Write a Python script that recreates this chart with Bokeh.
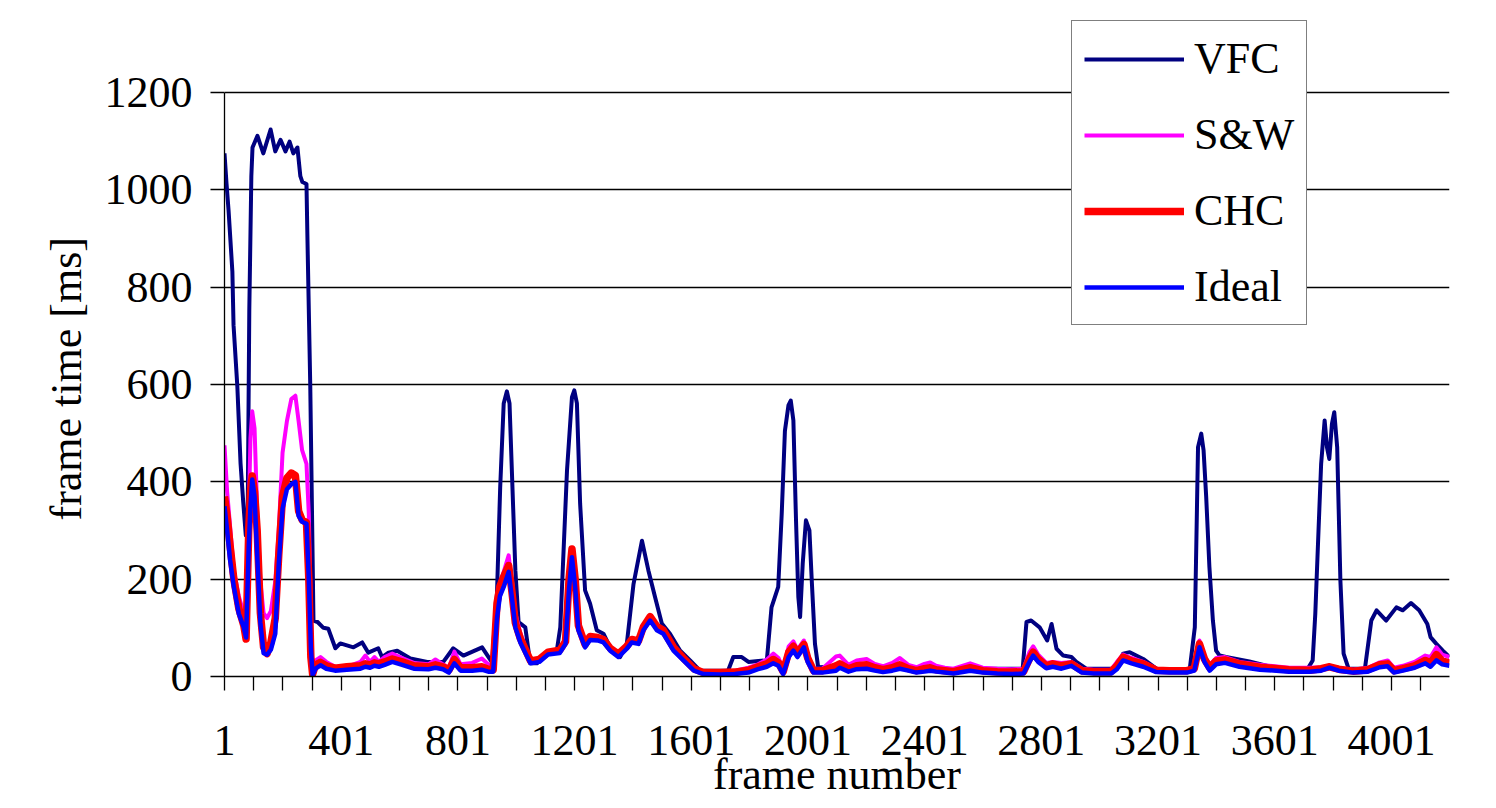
from bokeh.plotting import figure
from bokeh.models import FixedTicker, Range1d, Title
from bokeh.embed import file_html
from bokeh.resources import INLINE

# ---------------- data ----------------
series_names = ["VFC", "S&W", "CHC", "Ideal"]
series_colors = ["#000080", "#FF00FF", "#FF0000", "#0000FF"]

vfc_frames = [1, 8, 15, 28, 32, 45, 56, 65, 74, 80, 86, 93, 97, 114, 134, 159, 175, 193, 210, 224,
              237, 251, 261, 268, 282, 285, 295, 306, 320, 340, 357, 381, 398, 443, 473, 494, 528, 541,
              563, 593, 638, 696, 751, 785, 820, 884, 918, 935, 946, 958, 969, 978, 986, 998, 1009,
              1032, 1049, 1072, 1106, 1140, 1152, 1175, 1192, 1200, 1209, 1220, 1237, 1254, 1277,
              1300, 1323, 1357, 1380, 1403, 1432, 1454, 1477, 1500, 1528, 1563, 1597, 1631, 1727,
              1745, 1774, 1797, 1831, 1860, 1876, 1899, 1911, 1922, 1934, 1942, 1951, 1960, 1968,
              1974, 1983, 1994, 2006, 2014, 2025, 2036, 2100, 2222, 2408, 2450, 2624, 2737, 2750,
              2766, 2795, 2821, 2836, 2853, 2876, 2904, 2921, 2955, 3060, 3081, 3104, 3150, 3195,
              3309, 3327, 3332, 3338, 3349, 3357, 3366, 3377, 3389, 3400, 3412, 3434, 3514, 3600,
              3709, 3717, 3731, 3740, 3751, 3760, 3772, 3780, 3788, 3797, 3805, 3815, 3826, 3837,
              3854, 3910, 3932, 3950, 3983, 4018, 4040, 4068, 4096, 4124, 4135, 4155, 4177, 4200]
vfc_values = [1075, 1012, 957, 832, 722, 596, 438, 360, 290, 290, 753, 1028, 1087, 1111, 1075, 1124,
              1079, 1103, 1079, 1099, 1075, 1087, 1028, 1016, 1012, 910, 596, 115, 112, 100, 98, 58,
              68, 60, 70, 49, 58, 40, 49, 53, 37, 30, 30, 58, 43, 60, 29, 170, 389, 561, 586, 561,
              423, 218, 112, 101, 27, 27, 47, 53, 101, 423, 574, 588, 561, 355, 177, 150, 95, 88,
              60, 40, 67, 190, 279, 218, 163, 109, 88, 53, 33, 12, 12, 40, 40, 30, 32, 33, 142, 184,
              334, 505, 557, 567, 526, 321, 163, 122, 232, 321, 300, 197, 67, 19, 20, 19, 19, 15,
              16, 16, 112, 115, 101, 74, 108, 57, 43, 40, 30, 16, 16, 47, 50, 36, 16, 12, 101, 266,
              471, 499, 465, 369, 225, 115, 53, 43, 40, 31, 18, 12, 19, 33, 129, 300, 437, 526, 471,
              447, 519, 543, 471, 197, 47, 16, 16, 115, 136, 115, 142, 136, 151, 136, 108, 81, 67,
              53, 40]

low_frames = [1, 10, 20, 33, 50, 67, 75, 84, 90, 96, 104, 113, 124, 135, 147, 160, 175, 187, 200,
              215, 230, 244, 255, 267, 282, 290, 297, 303, 313, 330, 350, 380, 420, 467, 484, 500,
              515, 530, 550, 576, 610, 650, 700, 724, 750, 770, 789, 810, 850, 883, 905, 922, 935,
              945, 958, 975, 986, 998, 1015, 1035, 1050, 1080, 1110, 1150, 1170, 1182, 1192, 1203,
              1214, 1237, 1254, 1280, 1300, 1323, 1351, 1380, 1397, 1420, 1437, 1460, 1483, 1505,
              1540, 1574, 1610, 1643, 1700, 1750, 1797, 1830, 1860, 1882, 1900, 1916, 1935, 1951,
              1965, 1987, 2000, 2020, 2050, 2097, 2110, 2140, 2168, 2202, 2230, 2258, 2290, 2316,
              2345, 2373, 2400, 2420, 2440, 2470, 2500, 2557, 2600, 2650, 2700, 2740, 2760, 2773,
              2790, 2818, 2840, 2870, 2904, 2940, 2980, 3040, 3060, 3081, 3110, 3150, 3195, 3240,
              3300, 3325, 3343, 3360, 3378, 3400, 3430, 3480, 3550, 3650, 3720, 3760, 3789, 3820,
              3870, 3920, 3961, 3988, 4010, 4040, 4080, 4117, 4135, 4155, 4175, 4200]
ideal_values = [350, 300, 240, 184, 129, 101, 80, 266, 350, 405, 370, 250, 110, 48, 45, 55, 88, 232,
                345, 385, 395, 400, 330, 318, 314, 200, 60, 3, 16, 23, 16, 12, 14, 16, 20, 18, 22, 20,
                24, 30, 24, 16, 15, 18, 15, 8, 27, 12, 12, 14, 10, 10, 120, 165, 184, 215, 163, 101,
                70, 45, 27, 30, 45, 48, 67, 180, 245, 184, 95, 60, 75, 74, 70, 53, 40, 57, 70, 67, 95,
                115, 95, 88, 53, 33, 12, 5, 4, 5, 8, 15, 20, 27, 22, 5, 40, 53, 40, 60, 30, 8, 8, 12,
                18, 10, 15, 16, 12, 9, 12, 16, 12, 8, 10, 12, 10, 8, 6, 12, 8, 6, 5, 6, 30, 43, 30, 17,
                20, 16, 22, 8, 6, 6, 15, 33, 27, 20, 9, 8, 8, 12, 60, 30, 12, 25, 28, 20, 14, 10, 10,
                12, 18, 12, 8, 10, 19, 21, 8, 12, 18, 27, 20, 33, 25, 22]
chc_values = [370, 330, 270, 200, 140, 105, 77, 300, 380, 412, 380, 300, 130, 60, 47, 70, 120, 250,
              370, 408, 418, 413, 340, 322, 316, 200, 40, 5, 24, 29, 22, 17, 20, 22, 26, 24, 28, 26,
              30, 36, 30, 22, 20, 24, 20, 13, 35, 18, 18, 20, 15, 14, 150, 185, 205, 228, 175, 110,
              78, 52, 32, 35, 50, 54, 72, 200, 262, 200, 105, 66, 82, 80, 76, 58, 46, 62, 76, 73,
              102, 123, 103, 95, 60, 38, 16, 8, 8, 9, 13, 20, 26, 35, 28, 10, 50, 62, 48, 66, 38, 12,
              12, 22, 26, 16, 22, 24, 18, 14, 18, 24, 16, 12, 16, 18, 14, 12, 10, 18, 12, 10, 9, 10,
              36, 50, 36, 22, 26, 22, 26, 12, 10, 10, 22, 40, 32, 26, 13, 12, 12, 16, 67, 36, 18, 32,
              34, 26, 19, 14, 13, 16, 20, 15, 11, 14, 24, 26, 12, 16, 22, 33, 28, 45, 32, 28]
sw_values = [475, 380, 310, 218, 165, 130, 90, 334, 490, 545, 510, 340, 195, 130, 120, 135, 195, 300,
             460, 525, 570, 577, 525, 465, 437, 334, 120, 5, 33, 40, 30, 20, 20, 30, 43, 30, 40, 30,
             40, 47, 38, 28, 25, 35, 25, 18, 51, 25, 28, 37, 25, 22, 160, 190, 215, 249, 190, 130,
             90, 55, 33, 36, 50, 55, 70, 185, 240, 190, 100, 65, 80, 78, 74, 56, 44, 60, 75, 72, 100,
             118, 100, 92, 58, 36, 15, 8, 8, 12, 18, 25, 35, 47, 38, 16, 62, 72, 55, 74, 45, 16, 16,
             41, 43, 24, 33, 36, 26, 21, 28, 38, 24, 19, 26, 29, 22, 18, 16, 27, 18, 16, 15, 16, 50,
             62, 45, 28, 30, 28, 30, 16, 14, 14, 30, 45, 38, 30, 16, 14, 14, 20, 74, 42, 24, 38, 40,
             30, 24, 18, 18, 19, 21, 18, 14, 18, 29, 33, 18, 22, 30, 43, 40, 60, 45, 40]

x_major_ticks = [1, 401, 801, 1201, 1601, 2001, 2401, 2801, 3201, 3601, 4001]
x_minor_ticks = [101, 201, 301, 501, 601, 701, 901, 1001, 1101, 1301, 1401, 1501, 1701, 1801, 1901,
                 2101, 2201, 2301, 2501, 2601, 2701, 2901, 3001, 3101, 3301, 3401, 3501, 3701, 3801,
                 3901, 4101]
y_ticks = [0, 200, 400, 600, 800, 1000, 1200]
y_axis_max = 1200
x_label = "frame number"
y_label = "frame time [ms]"

FONT = "Liberation Serif"
BLACK = "black"

# frame extends above the 1200 line so that the legend box (which sits above it) is not clipped
FRAME_TOP, FRAME_BOTTOM = 8, 676
TOP_PX_1200 = 92
y_end = y_axis_max * (FRAME_BOTTOM - FRAME_TOP) / (FRAME_BOTTOM - TOP_PX_1200)

p = figure(width=1496, height=808, output_backend="svg", toolbar_location=None,
           x_range=Range1d(1, 4200), y_range=Range1d(0, y_end),
           min_border_left=224, min_border_right=47, min_border_top=FRAME_TOP,
           min_border_bottom=808 - FRAME_BOTTOM)
p.outline_line_color = None
p.background_fill_color = "white"
p.border_fill_color = "white"

series = [(vfc_frames, vfc_values, 4), (low_frames, sw_values, 4),
          (low_frames, chc_values, 7.5), (low_frames, ideal_values, 4.5)]
for (xs, ys, w), name, col in zip(series, series_names, series_colors):
    p.line(xs, ys, line_color=col, line_width=w, legend_label=name, line_join="round")

# axes
p.xaxis.ticker = FixedTicker(ticks=x_major_ticks, minor_ticks=x_minor_ticks)
p.yaxis.ticker = FixedTicker(ticks=y_ticks)
p.yaxis.bounds = (0, y_axis_max)
for ax in (p.xaxis[0], p.yaxis[0]):
    ax.axis_line_color = BLACK
    ax.axis_line_width = 1.3
    ax.major_tick_line_color = BLACK
    ax.major_tick_line_width = 1.3
    ax.major_tick_in = 0
    ax.major_tick_out = 14
    ax.major_label_text_font = FONT
    ax.major_label_text_font_size = "44px"
    ax.major_label_text_color = BLACK
    ax.axis_label_text_font = FONT
    ax.axis_label_text_font_size = "44px"
    ax.axis_label_text_font_style = "normal"
    ax.axis_label_text_color = BLACK
p.xaxis.minor_tick_line_color = BLACK
p.xaxis.minor_tick_line_width = 1.3
p.xaxis.minor_tick_in = 0
p.xaxis.minor_tick_out = 14
p.yaxis.minor_tick_line_color = None
p.xaxis.axis_label = x_label
p.xaxis.major_label_standoff = 35
p.yaxis.major_label_standoff = 18
p.xaxis.axis_label_standoff = -8

# y-axis title placed beside the axis, centred on the 0..1200 part of the frame
ytitle = Title(text=y_label, align="left", offset=156, standoff=22,
               text_font=FONT, text_font_size="44px", text_font_style="normal",
               text_color=BLACK)
p.add_layout(ytitle, "left")

p.xgrid.grid_line_color = None
p.ygrid.grid_line_color = BLACK
p.ygrid.grid_line_width = 1.3
p.ygrid.bounds = (0, y_axis_max)

# legend
lg = p.legend[0]
lg.location = (847, 351)
lg.label_text_font = FONT
lg.label_text_font_size = "44px"
lg.label_text_color = BLACK
lg.glyph_width = 100
lg.glyph_height = 40
lg.label_height = 40
lg.label_standoff = 10
lg.spacing = 25
lg.padding = 12
lg.margin = 0
lg.border_line_color = BLACK
lg.border_line_width = 1.3
lg.background_fill_color = "white"
lg.background_fill_alpha = 1.0

open("out.html", "w").write(file_html(p, INLINE))
